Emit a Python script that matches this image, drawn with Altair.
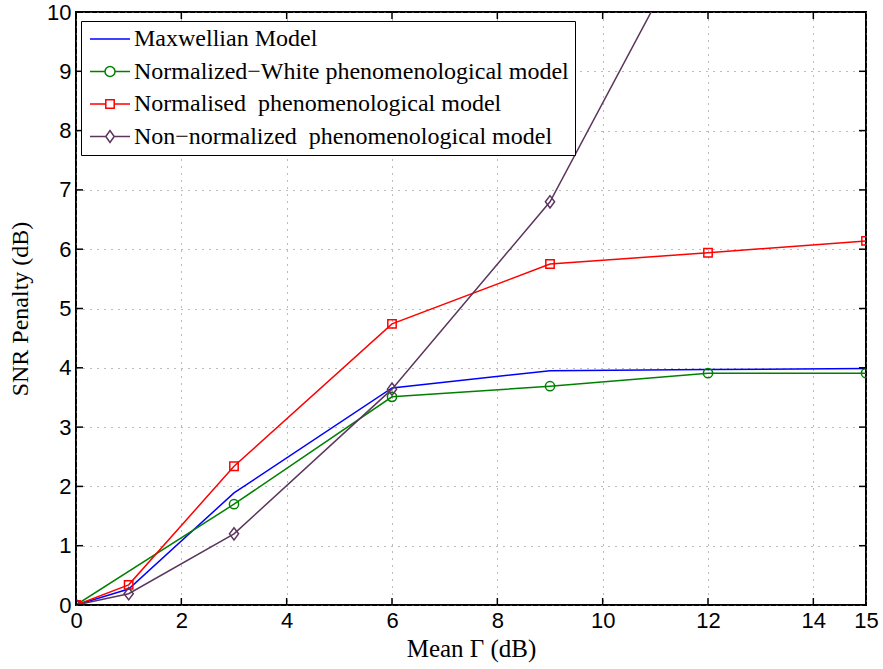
import altair as alt
import pandas as pd

# ---- data ----
series_names = [
    "Maxwellian Model",
    "Normalized\u2212White phenomenological model",
    "Normalised\u00a0 phenomenological model",
    "Non\u2212normalized\u00a0 phenomenological model",
]
series_colors = ["#0000FF", "#008000", "#FF0000", "#5C355E"]

x_maxwell = [0, 1, 3, 6, 9, 12, 15]
y_maxwell = [0, 0.27, 1.89, 3.66, 3.95, 3.97, 3.99]

x_white = [0, 3, 6, 9, 12, 15]
y_white = [0, 1.70, 3.51, 3.69, 3.91, 3.91]

x_norm = [0, 1, 3, 6, 9, 12, 15]
y_norm = [0, 0.34, 2.34, 4.74, 5.75, 5.94, 6.14]

x_non = [0, 1, 3, 6, 9, 12, 15]
y_non = [0, 0.19, 1.20, 3.64, 6.80, 11.8, 14.5]

x_ticks = [0, 2, 4, 6, 8, 10, 12, 14, 15]
y_ticks = [0, 1, 2, 3, 4, 5, 6, 7, 8, 9, 10]
x_min, x_max = 0, 15
y_min, y_max = 0, 10

rows = []
for name, xs, ys in zip(series_names,
                        [x_maxwell, x_white, x_norm, x_non],
                        [y_maxwell, y_white, y_norm, y_non]):
    for a, b in zip(xs, ys):
        rows.append({"series": name, "x": a, "y": b})
df = pd.DataFrame(rows)
xtick_df = pd.DataFrame({"v": x_ticks})
ytick_df = pd.DataFrame({"v": y_ticks})

W, H = 790, 593

# legend symbols: line stub + marker
legend_shapes = [
    "M-2,0L2,0",
    "M-2,0L-0.5,0M0.5,0L2,0M-0.5,0A0.5,0.5,0,1,0,0.5,0A0.5,0.5,0,1,0,-0.5,0",
    "M-2,0L-0.42,0M0.42,0L2,0M-0.42,-0.42L0.42,-0.42L0.42,0.42L-0.42,0.42Z",
    "M-2,0L-0.42,0M0.42,0L2,0M-0.42,0L0,-0.6L0.42,0L0,0.6Z",
]
diamond_path = "M-0.75,0L0,-1L0.75,0L0,1Z"

xscale = alt.Scale(domain=[x_min, x_max], nice=False, zero=False)
yscale = alt.Scale(domain=[y_min, y_max], nice=False, zero=False)
cscale = alt.Scale(domain=series_names, range=series_colors)
sscale = alt.Scale(domain=series_names, range=legend_shapes)

grid_dash = [1, 6]
grid_color = "#777777"

main_x = alt.Axis(values=x_ticks, format="d", ticks=False, domain=False, grid=True,
                  gridDash=grid_dash, gridColor=grid_color, gridWidth=1,
                  labelFont="Liberation Sans", labelFontSize=22, labelColor="black",
                  labelPadding=5, labelFlush=False,
                  title="Mean \u0393 (dB)", titleFont="Liberation Serif", titleFontSize=25,
                  titleFontWeight="normal", titleColor="black", titlePadding=5)
main_y = alt.Axis(values=y_ticks, format="d", ticks=False, domain=False, grid=True,
                  gridDash=grid_dash, gridColor=grid_color, gridWidth=1,
                  labelFont="Liberation Sans", labelFontSize=22, labelColor="black",
                  labelPadding=5, labelFlush=False,
                  title="SNR Penalty (dB)", titleFont="Liberation Serif", titleFontSize=24,
                  titleFontWeight="normal", titleColor="black", titlePadding=14)

leg = alt.Legend(title=None, orient="none", legendX=5, legendY=9,
                 strokeColor="black", fillColor="white", padding=6,
                 labelFont="Liberation Serif", labelFontSize=24, labelColor="black",
                 labelLimit=0, symbolSize=400, symbolStrokeWidth=1.5,
                 symbolOffset=11, labelOffset=12, rowPadding=8.5)

color_enc = alt.Color("series:N", scale=cscale, legend=leg)

def xq(field="x"):
    return alt.X(f"{field}:Q", scale=xscale, axis=None)

def yq(field="y"):
    return alt.Y(f"{field}:Q", scale=yscale, axis=None)

base = alt.Chart(df)

lines = base.mark_line(strokeWidth=1.5, clip=True).encode(
    x=alt.X("x:Q", scale=xscale, axis=main_x),
    y=alt.Y("y:Q", scale=yscale, axis=main_y),
    color=color_enc,
)

pts_white = base.transform_filter(alt.datum.series == series_names[1]).mark_point(
    shape="circle", size=85, strokeWidth=1.5, filled=False, clip=True, opacity=1
).encode(x=xq(), y=yq(), color=color_enc)

pts_norm = base.transform_filter(alt.datum.series == series_names[2]).mark_point(
    shape="square", size=70, strokeWidth=1.5, filled=False, clip=True, opacity=1
).encode(x=xq(), y=yq(), color=color_enc)

pts_non = base.transform_filter(alt.datum.series == series_names[3]).mark_point(
    shape=diamond_path, size=150, strokeWidth=1.5, filled=False, clip=True, opacity=1
).encode(x=xq(), y=yq(), color=color_enc)

legend_layer = base.transform_filter("false").mark_point(filled=False, opacity=1).encode(
    x=xq(), y=yq(),
    color=color_enc,
    shape=alt.Shape("series:N", scale=sscale, legend=leg),
)

# inward tick marks on all four sides (half of each tick is clipped away)
tick_style = dict(size=14, thickness=1.5, color="black", clip=True, opacity=1)
ticks_bottom = alt.Chart(xtick_df).mark_tick(orient="vertical", **tick_style).encode(
    x=xq("v"), y=alt.YDatum(y_min, scale=yscale, axis=None))
ticks_top = alt.Chart(xtick_df).mark_tick(orient="vertical", **tick_style).encode(
    x=xq("v"), y=alt.YDatum(y_max, scale=yscale, axis=None))
ticks_left = alt.Chart(ytick_df).mark_tick(orient="horizontal", **tick_style).encode(
    y=yq("v"), x=alt.XDatum(x_min, scale=xscale, axis=None))
ticks_right = alt.Chart(ytick_df).mark_tick(orient="horizontal", **tick_style).encode(
    y=yq("v"), x=alt.XDatum(x_max, scale=xscale, axis=None))

chart = alt.layer(
    lines, pts_white, pts_norm, pts_non, legend_layer,
    ticks_bottom, ticks_top, ticks_left, ticks_right,
).resolve_axis(
    x="independent", y="independent"
).properties(
    width=W, height=H,
    autosize=alt.AutoSizeParams(type="none"),
    padding={"left": 76, "top": 12, "right": 17, "bottom": 64},
).configure_view(
    stroke="black", strokeWidth=2
)

chart.save("out.html", embed_options={"renderer": "svg", "actions": False})
